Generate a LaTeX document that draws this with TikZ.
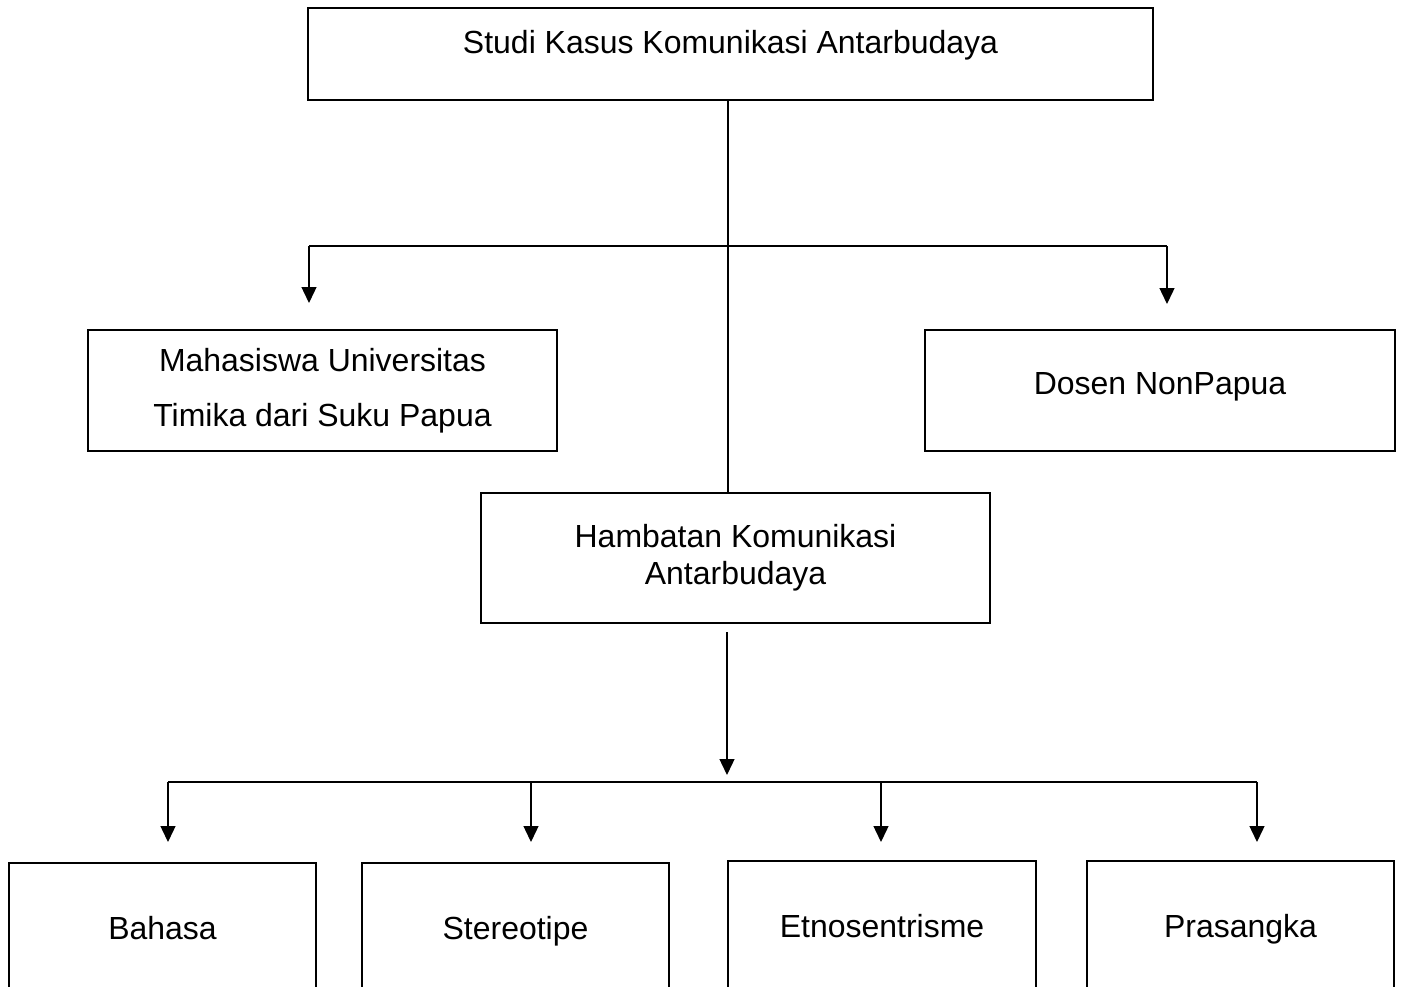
\documentclass[tikz,border=0pt]{standalone}
\usepackage{fontspec}
\setmainfont{Liberation Sans}
\usepackage{tikz}
\usetikzlibrary{arrows.meta,positioning}

\begin{document}
\begin{tikzpicture}
  [
    x=0.02cm,y=-0.02cm,
    every node/.style={font=\fontsize{18.2pt}{21pt}\selectfont},
    box/.style={rectangle,draw=black,line width=1.1pt,inner sep=0pt,align=center},
    leaf/.style={box,minimum width=6.14cm,minimum height=2.6cm,text height=0.46cm,text depth=0cm},
    link/.style={line width=0.8pt},
    arrow/.style={link,-{Triangle[width=0.3cm,length=0.32cm]}}
  ]
  \useasboundingbox (0,0) rectangle (1401,987);
  % top level
  \node[box,minimum width=16.9cm,text height=0.9cm,text depth=0.94cm] (case) at (730.5,54) {Studi Kasus Komunikasi Antarbudaya};
  \node[box,minimum width=9.38cm,minimum height=2.42cm] (student) at (322.5,390.5)
    {Mahasiswa Universitas\\[10pt] Timika dari Suku Papua};
  \node[box,minimum width=9.4cm,minimum height=2.42cm,text depth=0.28cm] (lecturer) at (1160,390.5) {Dosen NonPapua};
  \node[box,minimum width=10.18cm,minimum height=2.6cm] (barrier) at (735.5,558)
    {Hambatan Komunikasi\\ Antarbudaya};
  % bottom level
  \node[leaf] (language) at (162.5,928) {Bahasa};
  \node[leaf] (stereotype) at (515.5,928) {Stereotipe};
  \node[leaf,minimum width=6.16cm] (ethno) at (882,926) {Etnosentrisme};
  \node[leaf] (prejudice) at (1240.5,926) {Prasangka};
  % connectors, upper part
  \coordinate (trunk) at (728,246);
  \coordinate (upleft) at (309,246);
  \coordinate (upright) at (1167,246);
  \coordinate (tipleft) at (309,303);
  \coordinate (tipright) at (1167,304);
  \draw[link] (case.south -| trunk) -- (barrier.north -| trunk);
  \draw[link] (upleft) -- (upright);
  \draw[arrow] (upleft) -- (tipleft);
  \draw[arrow] (upright) -- (tipright);
  % connectors, lower part
  \coordinate (down) at (727,632);
  \coordinate (downtip) at (727,775);
  \draw[arrow] (down) -- (downtip);
  \coordinate (lowleft) at (168,782);
  \coordinate (lowright) at (1257,782);
  \draw[link] (lowleft) -- (lowright);
  \foreach \x in {168,531,881,1257}
    \draw[arrow] (\x,782) -- (\x,842);
\end{tikzpicture}
\end{document}
